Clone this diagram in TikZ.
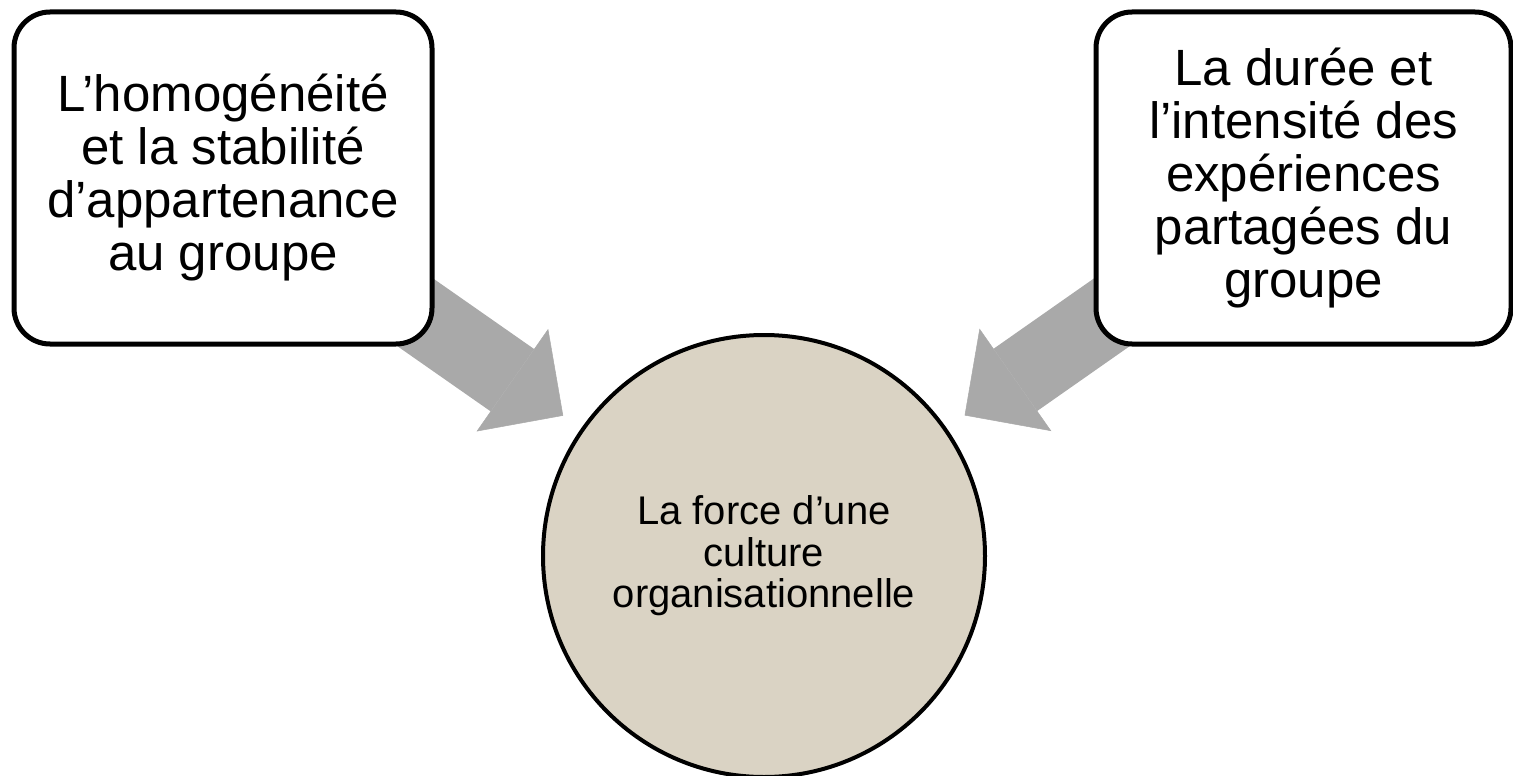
\documentclass[tikz,border=0pt]{standalone}
\usepackage{fontspec}
\setmainfont{Liberation Sans}
\usetikzlibrary{arrows.meta,backgrounds}
\definecolor{flowGray}{HTML}{A9A9A9}
\definecolor{coreBeige}{HTML}{DAD3C4}

\begin{document}
\begin{tikzpicture}[x=1pt, y=-1pt,
  box/.style={draw, line width=5pt, rounded corners=36pt, fill=white,
    minimum width=418pt, minimum height=332pt, inner sep=0pt, align=center,
    font=\fontsize{51}{53}\selectfont},
  core/.style={circle, draw, line width=4pt, fill=coreBeige, minimum size=442pt,
    inner sep=0pt, align=center, font=\fontsize{40}{41.5}\selectfont},
  flow/.style={draw=flowGray, line width=76pt, shorten >=22pt,
    -{Triangle[length=62pt,width=125pt,line width=0.5pt]}}]
\useasboundingbox (0,0) rectangle (1513,776);
% the two sources, top left and top right
\node[box] (homog) at (223,178) {L’homogénéité\\et la stabilité\\d’appartenance\\au groupe};
\node[box, minimum width=415pt] (duree) at (1303.5,178) {La durée et\\l’intensité des\\expériences\\partagées du\\groupe};
% what they feed
\node[core] (force) at (764,556) {La force d’une\\culture\\organisationnelle};
% block arrows, tucked under the boxes
\begin{scope}[on background layer]
  \draw[flow] (homog.center) -- (force);
  \draw[flow] (duree.center) -- (force);
\end{scope}
\end{tikzpicture}
\end{document}
